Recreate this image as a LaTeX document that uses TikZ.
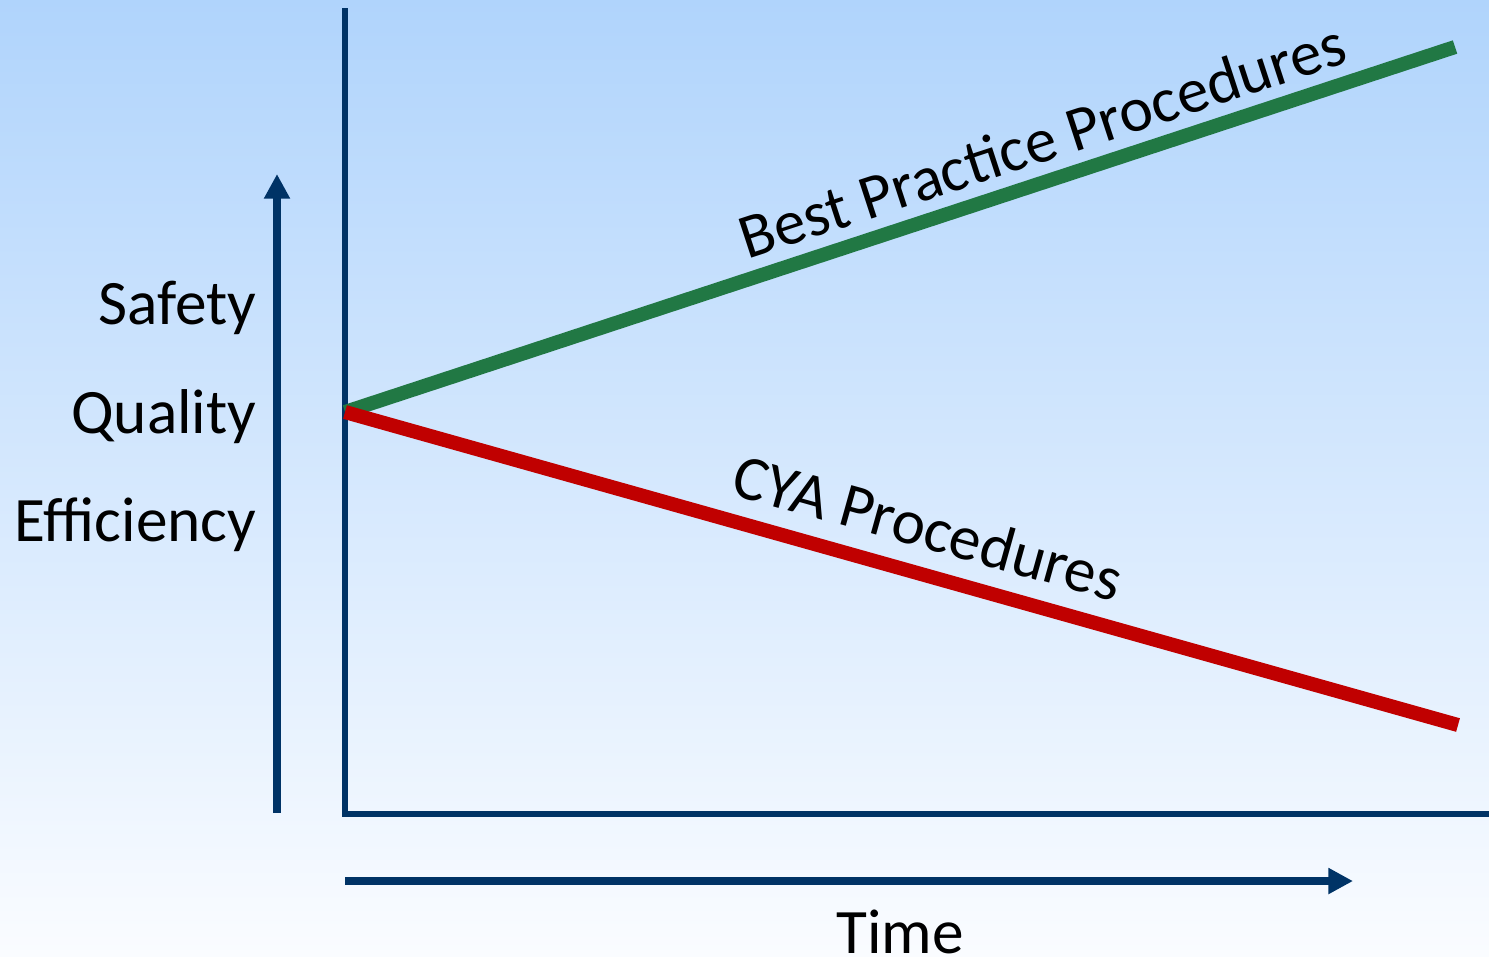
\documentclass[tikz,border=0pt]{standalone}
\usepackage{fontspec}
\setmainfont{Carlito}
\usetikzlibrary{arrows.meta}
\definecolor{navy}{HTML}{003366}
\definecolor{bpgreen}{HTML}{217844}
\definecolor{cyared}{HTML}{C00000}
\definecolor{bgtop}{HTML}{B0D4FC}
\definecolor{bgbot}{HTML}{FAFCFF}
\begin{document}
\begin{tikzpicture}[x=0.01cm,y=-0.01cm,
  axis/.style={draw=navy,line width=1.7pt},
  bigarrow/.style={draw=navy,line width=2.3pt,-{Triangle[length=7pt,width=7pt]}},
  trend/.style={line width=4pt},
  lbl/.style={font=\fontsize{18}{22}\selectfont,text=black,inner sep=0pt}]
\shade[top color=bgtop,bottom color=bgbot] (0,0) rectangle (1489,956);
\useasboundingbox (0,0) rectangle (1489,956);
% coordinates
\coordinate (ytop) at (345,8);
\coordinate (origin) at (345,814);
\coordinate (xend) at (1489,814);
\coordinate (start) at (345,412);
\coordinate (gend) at (1455,47);
\coordinate (rend) at (1458,725);
\coordinate (uabot) at (277,813);
\coordinate (uatop) at (277,174);
\coordinate (rabeg) at (345,881);
\coordinate (raend) at (1353,881);
% axes
\draw[axis] (ytop) -- (origin) -- (xend);
% arrows
\draw[bigarrow] (uabot) -- (uatop);
\draw[bigarrow] (rabeg) -- (raend);
% trend lines
\draw[trend,draw=bpgreen] (start) -- (gend);
\draw[trend,draw=cyared] (start) -- (rend);
% labels
\node[lbl,anchor=east] (safety) at (257,308) {Safety};
\node[lbl,anchor=east] (quality) at (257,417) {Quality};
\node[lbl,anchor=east] (eff) at (257,525) {Efficiency};
\node[lbl] (time) at (900,932) {Time};
\node[lbl,rotate=18.1] (bp) at (1042,140) {Best Practice Procedures};
\node[lbl,rotate=-15.6] (cya) at (928,527) {CYA Procedures};
\end{tikzpicture}
\end{document}
